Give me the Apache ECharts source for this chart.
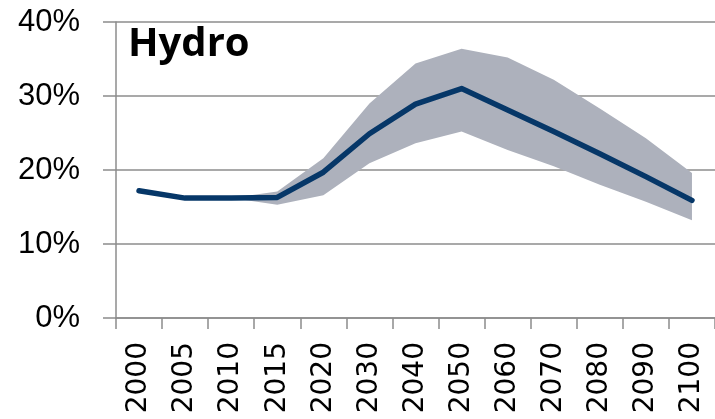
<!DOCTYPE html>
<html lang="en">
<head>
    <meta charset="UTF-8">
    <title>Hydro</title>
    <style>
        html, body { margin: 0; padding: 0; background: #fff; }
        #hydro { width: 715px; height: 419px; }
    </style>
</head>
<body>
<div id="hydro"></div>

<script type="text/javascript" src="https://cdn.jsdelivr.net/npm/echarts@6/dist/echarts.min.js"></script>
<script>
    // values (percent)
    var years = ['2000', '2005', '2010', '2015', '2020', '2030', '2040', '2050', '2060', '2070', '2080', '2090', '2100'];
    var central = [17.2, 16.2, 16.2, 16.3, 19.7, 24.9, 28.9, 31.0, 28.1, 25.2, 22.2, 19.1, 15.9];
    var upper = [null, null, 16.2, 17.1, 21.6, 29.0, 34.4, 36.4, 35.2, 32.2, 28.3, 24.3, 19.6];
    var lower = [null, null, 16.2, 15.3, 16.6, 20.9, 23.6, 25.2, 22.7, 20.5, 18.0, 15.7, 13.2];
    var yTicks = [0, 10, 20, 30, 40];

    // band = lower (invisible) + spread stacked on top
    var spread = [];
    for (var i = 0; i < years.length; i++) {
        spread.push(upper[i] == null ? null : +(upper[i] - lower[i]).toFixed(2));
    }

    var chart = echarts.init(document.getElementById('hydro'));

    var option = {
        animation: false,
        title: {
            text: 'Hydro',
            left: 123,
            top: 20,
            textStyle: {
                fontFamily: 'Open Sans',
                fontWeight: 'bold',
                fontSize: 40,
                color: '#000'
            }
        },
        grid: {
            left: 116,
            right: 0,
            top: 22,
            bottom: 101
        },
        xAxis: {
            type: 'category',
            data: years,
            boundaryGap: true,
            axisLine: { lineStyle: { color: '#8c8c8c', width: 1.5 } },
            axisTick: { show: true, length: 11, lineStyle: { color: '#8c8c8c', width: 1.5 } },
            axisLabel: {
                rotate: 90,
                margin: 24,
                fontFamily: 'DejaVu Sans',
                fontSize: 28,
                color: '#000'
            }
        },
        yAxis: {
            type: 'value',
            min: yTicks[0],
            max: yTicks[yTicks.length - 1],
            interval: 10,
            axisLine: { show: true, lineStyle: { color: '#8c8c8c', width: 1.5 } },
            axisTick: { show: true, length: 13, lineStyle: { color: '#8c8c8c', width: 1.5 } },
            splitLine: { lineStyle: { color: '#8c8c8c', width: 1.5 } },
            axisLabel: {
                margin: 36,
                formatter: '{value}%',
                fontFamily: 'Liberation Sans',
                fontSize: 31,
                color: '#000'
            }
        },
        series: [
            {
                name: 'lower',
                type: 'line',
                stack: 'band',
                data: lower,
                symbol: 'none',
                lineStyle: { opacity: 0 },
                silent: true
            },
            {
                name: 'range',
                type: 'line',
                stack: 'band',
                data: spread,
                symbol: 'none',
                lineStyle: { opacity: 0 },
                areaStyle: { color: '#adb1bc', opacity: 1 },
                silent: true
            },
            {
                name: 'Hydro',
                type: 'line',
                data: central,
                symbol: 'none',
                z: 5,
                lineStyle: { color: '#063768', width: 5.5, cap: 'round', join: 'round' }
            }
        ]
    };

    chart.setOption(option);
</script>
</body>
</html>
